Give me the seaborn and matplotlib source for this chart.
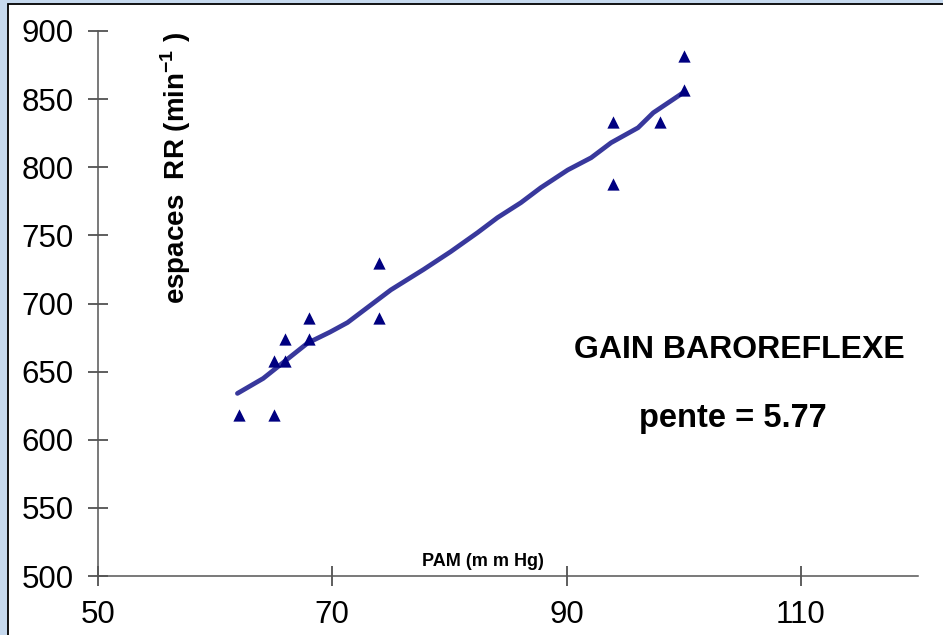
import matplotlib
matplotlib.use("Agg")
import matplotlib.pyplot as plt
from matplotlib.patches import Rectangle
import pandas as pd
import seaborn as sns

# Mean arterial pressure (mmHg) vs RR interval, one point per measurement
pam = [62, 65, 65, 66, 66, 68, 68, 74, 74, 94, 94, 98, 100, 100]
rr = [618, 618, 658, 658, 674, 674, 689, 730, 689, 833, 788, 833, 882, 857]

# Baroreflex gain trend line
fit_pam = [61.9, 64.1, 67.9, 69.8, 71.3, 75.0, 77.8, 80.1, 82.4, 84.1,
           86.1, 87.8, 90.1, 92.1, 93.8, 96.1, 97.4, 100.0]
fit_rr = [634, 645, 671, 679, 686, 710, 725, 738, 752, 763,
          774, 785, 798, 807, 818, 829, 840, 855]

x_ticks = [50, 70, 90, 110]
y_ticks = [500, 550, 600, 650, 700, 750, 800, 850, 900]

sns.set_theme(style="white")
plt.rcParams["font.family"] = ["Liberation Sans", "DejaVu Sans"]
plt.rcParams["text.color"] = "black"
plt.rcParams["mathtext.fontset"] = "custom"
plt.rcParams["mathtext.rm"] = "Liberation Sans:bold"
plt.rcParams["mathtext.bf"] = "Liberation Sans:bold"

W, H = 943, 635
fig = plt.figure(figsize=(W / 100, H / 100), dpi=100)
fig.patch.set_facecolor("#c6d9ee")

# white panel framed in black, kept behind the axes
fig.patches.append(Rectangle((8 / W, -0.05), 1.2, (H - 4) / H + 0.05,
                             transform=fig.transFigure, facecolor="white",
                             edgecolor="black", linewidth=1.3, zorder=-5))

ax = fig.add_axes([98 / W, (H - 576) / H, 820 / W, 545 / H])
ax.set_zorder(2)
ax.patch.set_alpha(0)

points = pd.DataFrame({"pam": pam, "rr": rr})
trend = pd.DataFrame({"pam": fit_pam, "rr": fit_rr})

sns.lineplot(data=trend, x="pam", y="rr", sort=False, estimator=None,
             color="#38389c", linewidth=3.4, ax=ax, zorder=2)
sns.scatterplot(data=points, x="pam", y="rr", marker="^", color="#000080",
                s=78, linewidth=0, ax=ax, zorder=3)

ax.set_xlim(50, 120)
ax.set_ylim(500, 900)
ax.set_xticks(x_ticks)
ax.set_yticks(y_ticks)
ax.set_xlabel("")
ax.set_ylabel("")

for side in ("top", "right"):
    ax.spines[side].set_visible(False)
for side in ("left", "bottom"):
    ax.spines[side].set_color("#555555")
    ax.spines[side].set_linewidth(1.1)

ax.tick_params(axis="both", which="major", bottom=True, left=True,
               direction="inout", length=15, width=1.1,
               color="#333333", labelsize=22.5, labelcolor="black")
ax.tick_params(axis="y", pad=10)
ax.tick_params(axis="x", pad=10)

fig.text(483 / W, 1 - 561 / H, "PAM (m m Hg)", fontsize=13, color="black",
         fontweight="bold", ha="center", va="center")
fig.text(176 / W, 1 - 168 / H, r"espaces  RR (min$^{-1}$ )", fontsize=20,
         color="black", fontweight="bold", rotation=90,
         ha="center", va="center")

fig.text(739 / W, 1 - 350 / H, "GAIN BAROREFLEXE", fontsize=23,
         color="black", fontweight="bold", ha="center", va="center")
fig.text(733 / W, 1 - 418 / H, "pente = 5.77", fontsize=23.5,
         color="black", fontweight="bold", ha="center", va="center")

fig.savefig("out.png", dpi=100, facecolor=fig.get_facecolor())
